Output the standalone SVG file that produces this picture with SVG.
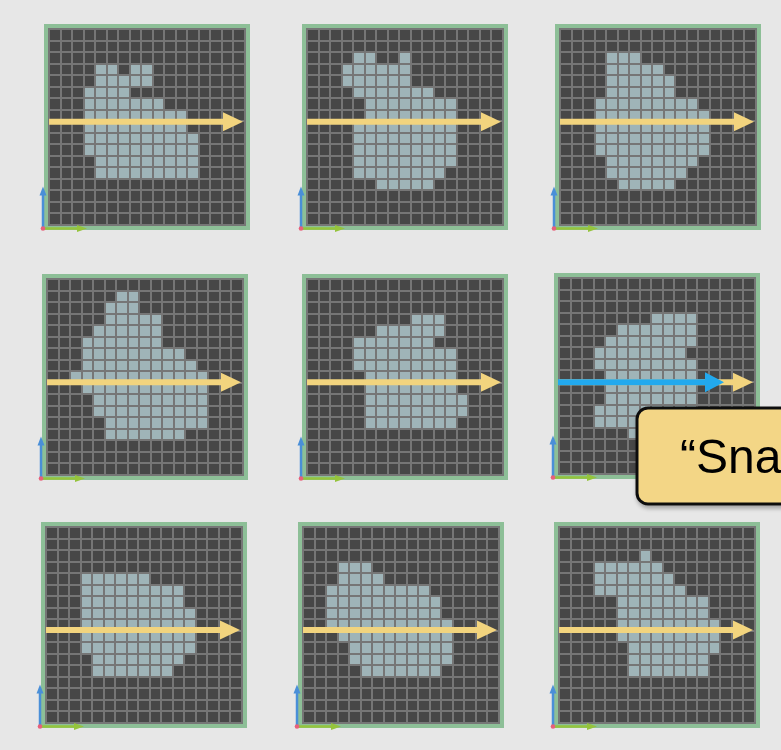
<svg xmlns="http://www.w3.org/2000/svg" xmlns:xlink="http://www.w3.org/1999/xlink" width="781" height="750" viewBox="0 0 781 750">
<style>
.frame{fill:#8dbf97}
.cellbg{fill:#474747}
.blob{fill:#9fb4b8}
.gl{stroke:#767676;stroke-width:2;fill:none}
.yl{stroke:#f2d47e;stroke-width:6;fill:none}
.yh{fill:#f2d47e}
.ax-b{stroke:#4a8fd8;stroke-width:2.5;fill:none}
.ax-g{stroke:#95c43c;stroke-width:2.5;fill:none}
.ax-bh{fill:#4a8fd8}
.ax-gh{fill:#95c43c}
.org{fill:#e8607a}
.callout{fill:#f3d686;stroke:#111;stroke-width:3}
.ctext{font-family:"Liberation Sans",Arial,sans-serif;font-size:48px;fill:#000}
</style>
<defs>
<g id="panelbase">
<rect class="frame" x="0" y="0" width="206" height="206"/>
<rect class="cellbg" x="4" y="4" width="198" height="198"/>
</g>
<path id="gridlines" class="gl" d="M5,4V202 M17,4V202 M28,4V202 M40,4V202 M51,4V202 M63,4V202 M74,4V202 M86,4V202 M97,4V202 M109,4V202 M120,4V202 M132,4V202 M143,4V202 M155,4V202 M166,4V202 M178,4V202 M189,4V202 M201,4V202 M4,5H202 M4,17H202 M4,28H202 M4,40H202 M4,51H202 M4,63H202 M4,74H202 M4,86H202 M4,97H202 M4,109H202 M4,120H202 M4,132H202 M4,143H202 M4,155H202 M4,166H202 M4,178H202 M4,189H202 M4,201H202"/>
<g id="axes">
<path class="ax-b" d="M0,0 V-35"/>
<polygon class="ax-bh" points="-3.5,-33 0,-42 3.5,-33"/>
<path class="ax-g" d="M0,0 H36"/>
<polygon class="ax-gh" points="34,-3.5 44,0 34,3.5"/>
<circle class="org" cx="0" cy="0" r="2.3"/>
</g>
<g id="yarrow">
<path class="yl" d="M5,0 H180"/>
<polygon class="yh" points="179,-9.5 199,0 179,9.5"/>
</g>
<filter id="sh" x="-10%" y="-10%" width="130%" height="140%">
<feGaussianBlur in="SourceAlpha" stdDeviation="2"/>
<feOffset dx="1" dy="3" result="b"/>
<feComponentTransfer><feFuncA type="linear" slope="0.3"/></feComponentTransfer>
<feMerge><feMergeNode/><feMergeNode in="SourceGraphic"/></feMerge>
</filter>
</defs>
<rect x="0" y="0" width="781" height="750" fill="#e7e7e7"/>

<g id="panel1" transform="translate(44,24)">
<use xlink:href="#panelbase"/>
<path class="blob" transform="translate(5,5) scale(11.53)" d="M4 3h2v1h-2z M7 3h2v1h-2z M4 4h5v1h-5z M3 5h4v1h-4z M3 6h7v1h-7z M3 7h9v2h-9z M3 9h10v2h-10z M4 11h9v2h-9z"/>
<use xlink:href="#gridlines"/>
<use xlink:href="#axes" x="-1" y="204.5"/>
</g>
<g id="panel2" transform="translate(302,24)">
<use xlink:href="#panelbase"/>
<path class="blob" transform="translate(5,5) scale(11.53)" d="M4 2h2v1h-2z M8 2h1v1h-1z M3 3h6v2h-6z M4 5h7v1h-7z M5 6h8v2h-8z M4 8h9v4h-9z M4 12h8v1h-8z M6 13h5v1h-5z"/>
<use xlink:href="#gridlines"/>
<use xlink:href="#axes" x="-1" y="204.5"/>
</g>
<g id="panel3" transform="translate(555,24)">
<use xlink:href="#panelbase"/>
<path class="blob" transform="translate(5,5) scale(11.53)" d="M4 2h3v1h-3z M4 3h5v1h-5z M4 4h6v2h-6z M3 6h9v1h-9z M3 7h10v4h-10z M4 11h8v1h-8z M4 12h7v1h-7z M5 13h5v1h-5z"/>
<use xlink:href="#gridlines"/>
<use xlink:href="#axes" x="-1" y="204.5"/>
</g>
<g id="panel4" transform="translate(42,274)">
<use xlink:href="#panelbase"/>
<path class="blob" transform="translate(5,5) scale(11.53)" d="M6 1h2v1h-2z M5 2h3v1h-3z M5 3h5v1h-5z M4 4h6v1h-6z M3 5h7v1h-7z M3 6h9v1h-9z M3 7h10v1h-10z M2 8h12v1h-12z M3 9h11v1h-11z M4 10h10v2h-10z M5 12h9v1h-9z M5 13h7v1h-7z"/>
<use xlink:href="#gridlines"/>
<use xlink:href="#axes" x="-1" y="204.5"/>
</g>
<g id="panel5" transform="translate(302,274)">
<use xlink:href="#panelbase"/>
<path class="blob" transform="translate(5,5) scale(11.53)" d="M9 3h3v1h-3z M6 4h6v1h-6z M4 5h7v1h-7z M4 6h9v2h-9z M5 8h8v2h-8z M5 10h9v2h-9z M5 12h8v1h-8z"/>
<use xlink:href="#gridlines"/>
<use xlink:href="#axes" x="-1" y="204.5"/>
</g>
<g id="panel6" transform="translate(554,273)">
<use xlink:href="#panelbase"/>
<path class="blob" transform="translate(5,5) scale(11.53)" d="M8 3h4v1h-4z M5 4h7v1h-7z M4 5h8v1h-8z M3 6h8v1h-8z M3 7h9v1h-9z M4 8h8v3h-8z M3 11h9v2h-9z M6 13h6v1h-6z"/>
<use xlink:href="#gridlines"/>
<use xlink:href="#axes" x="-1" y="204.5"/>
</g>
<g id="panel7" transform="translate(41,522)">
<use xlink:href="#panelbase"/>
<path class="blob" transform="translate(5,5) scale(11.53)" d="M3 4h6v1h-6z M3 5h9v2h-9z M3 7h10v4h-10z M4 11h8v1h-8z M4 12h7v1h-7z"/>
<use xlink:href="#gridlines"/>
<use xlink:href="#axes" x="-1" y="204.5"/>
</g>
<g id="panel8" transform="translate(298,522)">
<use xlink:href="#panelbase"/>
<path class="blob" transform="translate(5,5) scale(11.53)" d="M3 3h3v1h-3z M3 4h4v1h-4z M2 5h9v1h-9z M2 6h10v2h-10z M2 8h11v1h-11z M3 9h10v1h-10z M4 10h9v2h-9z M5 12h7v1h-7z"/>
<use xlink:href="#gridlines"/>
<use xlink:href="#axes" x="-1" y="204.5"/>
</g>
<g id="panel9" transform="translate(554,522)">
<use xlink:href="#panelbase"/>
<path class="blob" transform="translate(5,5) scale(11.53)" d="M7 2h1v1h-1z M3 3h6v1h-6z M3 4h7v1h-7z M3 5h8v1h-8z M5 6h8v2h-8z M5 8h9v2h-9z M6 10h8v1h-8z M6 11h7v2h-7z"/>
<use xlink:href="#gridlines"/>
<use xlink:href="#axes" x="-1" y="204.5"/>
</g>

<g id="connectors">
<use xlink:href="#yarrow" x="44" y="121.7"/>
<use xlink:href="#yarrow" x="302" y="121.7"/>
<use xlink:href="#yarrow" x="555" y="121.7"/>
<use xlink:href="#yarrow" x="42" y="382.3"/>
<use xlink:href="#yarrow" x="302" y="382.3"/>
<use xlink:href="#yarrow" x="554" y="382.3"/>
<use xlink:href="#yarrow" x="41" y="630"/>
<use xlink:href="#yarrow" x="298" y="630"/>
<use xlink:href="#yarrow" x="554" y="630"/>
<path d="M558,382.3 H706" stroke="#22a9ee" stroke-width="6" fill="none"/>
<polygon points="705,372.3 724,382.3 705,392.3" fill="#22a9ee"/>
</g>

<g id="callout" filter="url(#sh)">
<rect class="callout" x="637" y="408" width="180" height="96" rx="11"/>
<text class="ctext" x="680" y="472.5">“Sna</text>
</g>
</svg>
